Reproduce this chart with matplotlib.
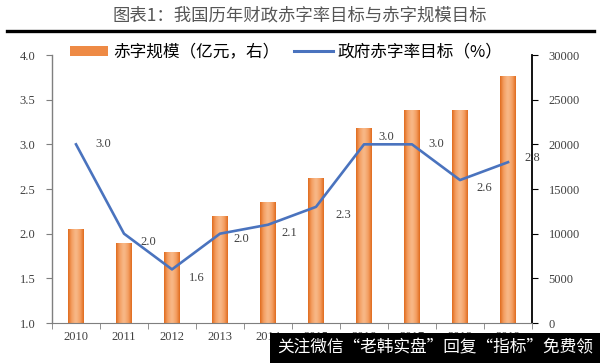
import matplotlib
matplotlib.use("Agg")
import matplotlib.pyplot as plt
import numpy as np
from matplotlib.lines import Line2D
from matplotlib.patches import Patch, Rectangle
from matplotlib.colors import LinearSegmentedColormap

plt.rcParams['font.family'] = ['Liberation Serif', 'Noto Sans CJK SC', 'DejaVu Sans']

years = ['2010', '2011', '2012', '2013', '2014', '2015', '2016', '2017', '2018', '2019']
deficit_size = [10500, 9000, 8000, 12000, 13500, 16200, 21800, 23800, 23800, 27600]
deficit_rate = [3.0, 2.0, 1.6, 2.0, 2.1, 2.3, 3.0, 3.0, 2.6, 2.8]
rate_labels = ['3.0', '2.0', '1.6', '2.0', '2.1', '2.3', '3.0', '3.0', '2.6', '2.8']

title = '图表1：我国历年财政赤字率目标与赤字规模目标'
bar_label = '赤字规模（亿元，右）'
line_label = '政府赤字率目标（%）'
watermark = '关注微信“老韩实盘”回复“指标”免费领'

fig = plt.figure(figsize=(6.0, 3.63), dpi=100)
ax = fig.add_axes([52/600, 1-323/363, 480/600, 268/363])
ax2 = ax.twinx()

x = np.arange(len(years))
bars = ax2.bar(x, deficit_size, width=0.33, color='#E8782A', edgecolor='none', zorder=2)

# gradient inside each bar
grad = np.linspace(-1, 1, 64)
grad = 1 - np.abs(grad) ** 1.3
grad = grad[np.newaxis, :]
cmap = LinearSegmentedColormap.from_list('o', ['#DF6A1C', '#F39A5C', '#F8B887'])
for b in bars:
    bx, by = b.get_x(), b.get_y()
    w, h = b.get_width(), b.get_height()
    im = ax2.imshow(grad, cmap=cmap, aspect='auto', extent=[bx, bx + w, by, by + h],
                    zorder=3, interpolation='bicubic')
    im.set_clip_path(b)

ax2.set_ylim(0, 30000)
ax2.set_yticks(np.arange(0, 30001, 5000))
ax.set_xlim(-0.5, len(years) - 0.5)
ax2.set_xlim(-0.5, len(years) - 0.5)

ax.plot(x, deficit_rate, color='#4A73BE', lw=1.9, zorder=5)
ax.set_ylim(1.0, 4.0)
ax.set_yticks(np.arange(1.0, 4.01, 0.5))
ax.set_yticklabels([f'{v:.1f}' for v in np.arange(1.0, 4.01, 0.5)])

offsets = [(14, 0), (12, -6), (12, -6), (10, -4), (10, -6), (14, -6), (10, 5), (12, 0), (12, -6), (12, 3)]
for xi, yi, lab, off in zip(x, deficit_rate, rate_labels, offsets):
    ax.annotate(lab, (xi, yi), xytext=off, textcoords='offset points',
                ha='left', va='center', fontsize=9, color='#404040', zorder=6)

ax.set_zorder(ax2.get_zorder() + 1)
ax.patch.set_visible(False)

# axes styling
for a in (ax, ax2):
    a.spines['top'].set_visible(False)
ax.spines['right'].set_visible(False)
ax2.spines['left'].set_visible(False)
ax.spines['left'].set_color('#7F7F7F')
ax.spines['bottom'].set_color('#7F7F7F')
ax2.spines['bottom'].set_visible(False)
ax2.spines['right'].set_color('black')
ax2.spines['right'].set_linewidth(1.3)
ax.spines['left'].set_linewidth(1.0)

ax.set_xticks(x)
ax.set_xticklabels(years)
ax.set_xticks(np.arange(-0.5, len(years), 1.0), minor=True)
ax.tick_params(axis='x', which='major', length=0, labelsize=9, labelcolor='#404040', pad=6)
ax.tick_params(axis='x', which='minor', length=4, color='#7F7F7F', direction='out')
ax.tick_params(axis='y', length=4, color='#7F7F7F', labelsize=9, labelcolor='#404040', pad=8)
ax2.tick_params(axis='y', length=4, color='black', labelsize=9, labelcolor='#404040', pad=8)
ax2.tick_params(axis='x', which='both', length=0, labelbottom=False)

# legend
handles = [Patch(facecolor='#EE8A45', edgecolor='none'),
           Line2D([0], [0], color='#4A73BE', lw=2.2)]
leg = fig.legend(handles, [bar_label, line_label], loc='center left',
                 bbox_to_anchor=(58/600, 1-52/363), ncol=2, frameon=False,
                 handlelength=2.3, handleheight=0.55, columnspacing=0.9, handletextpad=0.3,
                 prop={'family': ['Noto Sans CJK SC'], 'size': 12}, borderpad=0.2)

# title and rule
fig.text(0.5, 1-16/363, title, ha='center', va='center', fontsize=12.5, color='#555555',
         family=['Noto Sans CJK SC'])
fig.add_artist(Line2D([7/600, 594/600], [1-31/363, 1-31/363], color='black', lw=2.4,
                      transform=fig.transFigure))

# watermark box
fig.add_artist(Rectangle((270/600, 0), 330/600, 30/363, transform=fig.transFigure,
                         facecolor='black', edgecolor='none', zorder=10))
fig.text(277/600, 1-348/363, watermark, ha='left', va='center', fontsize=12, color='white',
         family=['Noto Sans CJK SC'], zorder=11)

fig.savefig('out.png', dpi=100, facecolor='white')
